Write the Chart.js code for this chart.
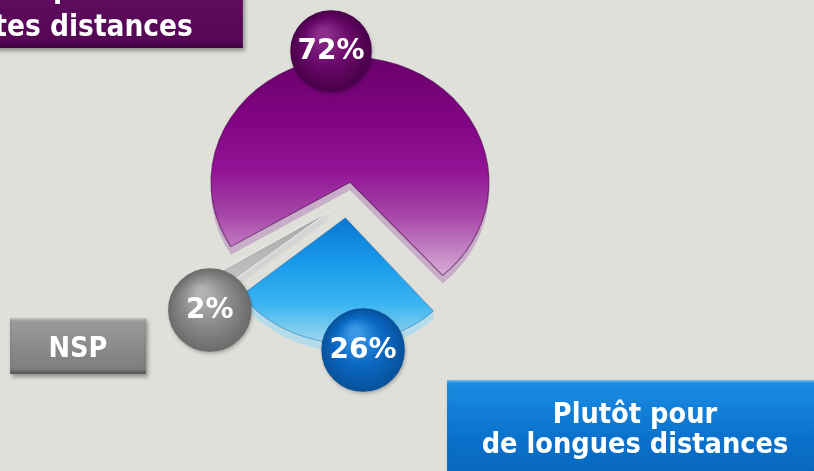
<!DOCTYPE html>
<html><head><meta charset="utf-8">
<script src="https://cdn.jsdelivr.net/npm/chart.js@4/dist/chart.umd.min.js"></script>
<style>
html,body{margin:0;padding:0;background:#e0e0db;overflow:hidden;}
#wrap{position:relative;width:814px;height:471px;overflow:hidden;background:#e0e0db;}
canvas{position:absolute;left:0;top:0;}
.box{position:absolute;color:#fff;font-family:"DejaVu Sans Condensed","DejaVu Sans",sans-serif;font-stretch:condensed;font-weight:bold;text-align:center;box-sizing:border-box;white-space:nowrap;}
</style></head><body>
<div id="wrap"><canvas id="c" width="814" height="471"></canvas></div>
<script>
// ---- data ----
const categories = ["Plutôt pour de longues distances", "NSP", "Plutôt pour de courtes distances"];
const boxLines = [["Plutôt pour", "de longues distances"], ["NSP"], ["Plutôt pour", "de courtes distances"]];
const values = [26, 2, 72];
const valueLabels = ["26%", "2%", "72%"];

// ---- styles ----
const DEPTH = 8, EXPLODE = 20, RADIUS = 139, ROTATION = 138.2;
const sliceSX = [0.95, 1.0, 1.0];
const sliceSY = [0.90, 0.92, 0.90];
const baseColors = ['#1a98e8', '#9a9a9a', '#820484'];
const sideColors = ['#b4dcea', '#d4d4d4', '#c8aec8'];
const gradStops = [
  [[215,'#0a74d0'],[260,'#1698ea'],[305,'#3cb6f2'],[340,'#98d6ee']],
  [[205,'#a0a0a0'],[285,'#c4c4c4']],
  [[55,'#6a006c'],[120,'#800482'],[170,'#921496'],[215,'#a646a8'],[255,'#c88ac8'],[282,'#dcbcdc']]
];
const borderCols = ['rgba(10,80,150,0.35)', 'rgba(255,255,255,0.5)', 'rgba(70,0,70,0.55)'];
const labelAngleAdj = [-10.8, -6.5, -14.1];
const labelDist = [167.5, 182, 166.4];
const labelR = [41, 41, 40];
const labelCols = [['#3a98e6','#0a68c4','#07529c'], ['#b4b4b4','#8a8a8a','#6c6c6c'], ['#8e2e8c','#680868','#4a004a']];
const boxStyles = [
  {left:447, top:380, width:376, height:96, pad:18, fs:28.6, lh:30, bg:'linear-gradient(#1c8ee4,#0a72cc 60%,#0866be)'},
  {left:10, top:318, width:136, height:56, pad:14, fs:28.6, lh:30, bg:'linear-gradient(#9c9c9c,#888 60%,#7c7c7c)'},
  {left:-168, top:-49, width:411, height:97, pad:18, fs:29.5, lh:38, bg:'linear-gradient(#6a0e6a,#5c0a5c 60%,#540654)'}
];

// legend boxes
const wrap = document.getElementById('wrap');
boxStyles.forEach((s, i) => {
  const d = document.createElement('div');
  d.className = 'box';
  Object.assign(d.style, {left:s.left+'px', top:s.top+'px', width:s.width+'px', height:s.height+'px', paddingTop:s.pad+'px',
    fontSize:s.fs+'px', lineHeight:s.lh+'px', background:s.bg,
    boxShadow:'inset 0 2px 2px rgba(255,255,255,0.35), inset 0 -3px 3px rgba(0,0,0,0.3), 2px 3px 4px rgba(0,0,0,0.35)'});
  d.innerHTML = boxLines[i].join('<br>');
  d.title = categories[i];
  wrap.appendChild(d);
});

function scaleAbout(ctx, cx, cy, sx, sy) { ctx.translate(cx, cy); ctx.scale(sx, sy); ctx.translate(-cx, -cy); }
function shiftOf(a) { const m = (a.startAngle + a.endAngle) / 2; return [Math.cos(m) * EXPLODE, Math.sin(m) * EXPLODE]; }
function drawWith(ctx, a, fill, stroke, bw) {
  const f = Object.create(a);
  f.options = Object.assign({}, a.options, {backgroundColor: fill, borderColor: stroke, borderWidth: bw, offset: 0, spacing: 0});
  f.draw(ctx);
}

const pie3d = {
  id: 'pie3d',
  beforeDatasetsDraw(chart) {
    const ctx = chart.ctx, arcs = chart.getDatasetMeta(0).data;
    if (!arcs.length) return;
    const cx = arcs[0].x, cy = arcs[0].y;
    for (let d = DEPTH; d > 0; d--) {
      arcs.forEach((a, i) => {
        ctx.save(); ctx.translate(0, d); scaleAbout(ctx, cx, cy, sliceSX[i], sliceSY[i]);
        const [dx, dy] = shiftOf(a); ctx.translate(dx, dy);
        const k = 1 - d / DEPTH * 0.25;
        ctx.globalAlpha = 1;
        drawWith(ctx, a, sideColors[i], sideColors[i], 0);
        ctx.restore();
      });
    }
    arcs.forEach((a, i) => {
      ctx.save(); scaleAbout(ctx, cx, cy, sliceSX[i], sliceSY[i]);
      const [dx, dy] = shiftOf(a); ctx.translate(dx, dy);
      const loc = ys => cy + (ys - cy) / sliceSY[i] - dy;
      const st = gradStops[i];
      const y0 = st[0][0], y1 = st[st.length-1][0];
      const g = ctx.createLinearGradient(0, loc(y0), 0, loc(y1));
      st.forEach(([y, c]) => g.addColorStop((y - y0) / (y1 - y0), c));
      drawWith(ctx, a, g, borderCols[i], 1.2);
      ctx.restore();
    });
    return false;
  },
  afterDraw(chart) {
    const ctx = chart.ctx, arcs = chart.getDatasetMeta(0).data;
    if (!arcs.length) return;
    const cx = arcs[0].x, cy = arcs[0].y;
    arcs.forEach((a, i) => {
      const m = (a.startAngle + a.endAngle) / 2 + labelAngleAdj[i] * Math.PI / 180;
      const x = cx + sliceSX[i] * Math.cos(m) * labelDist[i];
      const y = cy + sliceSY[i] * Math.sin(m) * labelDist[i];
      const r = labelR[i], col = labelCols[i];
      ctx.save();
      ctx.shadowColor = 'rgba(0,0,0,0.35)'; ctx.shadowBlur = 4; ctx.shadowOffsetX = 1; ctx.shadowOffsetY = 2;
      const g = ctx.createRadialGradient(x - r*0.2, y - r*0.45, r*0.1, x, y, r);
      g.addColorStop(0, col[0]); g.addColorStop(0.55, col[1]); g.addColorStop(1, col[2]);
      ctx.beginPath(); ctx.arc(x, y, r, 0, Math.PI * 2); ctx.fillStyle = g; ctx.fill();
      ctx.shadowColor = 'transparent';
      ctx.lineWidth = 1.5; ctx.strokeStyle = col[2]; ctx.stroke();
      ctx.fillStyle = '#fff'; ctx.font = 'bold 28px "DejaVu Sans", sans-serif';
      ctx.textAlign = 'center'; ctx.textBaseline = 'middle';
      ctx.fillText(valueLabels[i], x, y + 1);
      ctx.restore();
    });
  }
};

new Chart(document.getElementById('c'), {
  type: 'pie',
  data: { labels: categories, datasets: [{ data: values, backgroundColor: baseColors, borderColor: '#ffffff', borderWidth: 0 }] },
  options: {
    responsive: false, animation: false, events: [],
    rotation: ROTATION, radius: RADIUS,
    layout: { padding: { left: 0, right: 120, top: 0, bottom: 71 } },
    plugins: { legend: { display: false }, tooltip: { enabled: false } }
  },
  plugins: [pie3d]
});
</script>
</body></html>
